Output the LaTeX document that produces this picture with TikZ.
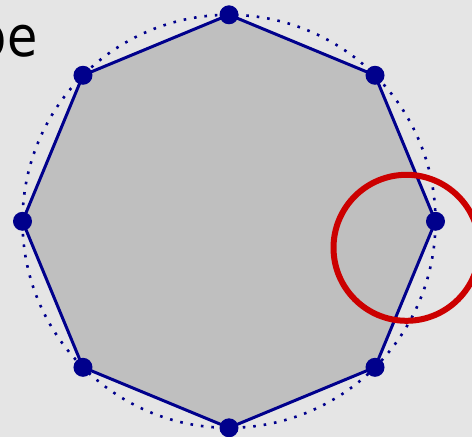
\documentclass[tikz,border=0pt]{standalone}
\usepackage{fontspec}
\setmainfont{DejaVu Sans}
\usetikzlibrary{calc}
\definecolor{bgc}{RGB}{229,229,229}
\definecolor{fillc}{RGB}{191,191,191}
\definecolor{navyc}{RGB}{0,0,140}
\definecolor{redc}{RGB}{204,0,0}
\tikzset{
  edgeline/.style={draw=navyc, line width=3pt, line join=round},
  vdot/.style={circle, fill=navyc, inner sep=0pt, minimum size=19pt},
  dotcircle/.style={draw=navyc, line width=2.6pt, dash pattern=on 2.6pt off 7.9pt},
  redring/.style={draw=redc, line width=6pt},
  bigtext/.style={font=\fontsize{56}{60}\selectfont, inner sep=0pt, text=black, xscale=0.88, transform shape}
}
\begin{document}
\begin{tikzpicture}[x=1pt,y=1pt]
\fill[bgc] (0,0) rectangle (472,437);
\useasboundingbox (0,0) rectangle (472,437);
\coordinate (c) at (229,215.7);
\node[bigtext, anchor=base east] (title) at (37.6,380.5) {pe};
\foreach \i in {0,...,7} {
  \coordinate (v\i) at ($(c)+(\i*45:206.5)$);
}
\fill[fillc] (v0) -- (v1) -- (v2) -- (v3) -- (v4) -- (v5) -- (v6) -- (v7) -- cycle;
\draw[dotcircle] (c) circle (206.5);
\draw[edgeline] (v0) -- (v1) -- (v2) -- (v3) -- (v4) -- (v5) -- (v6) -- (v7) -- cycle;
\foreach \i in {0,...,7} {
  \node[vdot] (d\i) at (v\i) {};
}
\node[redring, circle, minimum size=146pt, inner sep=0pt] (ring) at (406.5,189.2) {};
\end{tikzpicture}
\end{document}
